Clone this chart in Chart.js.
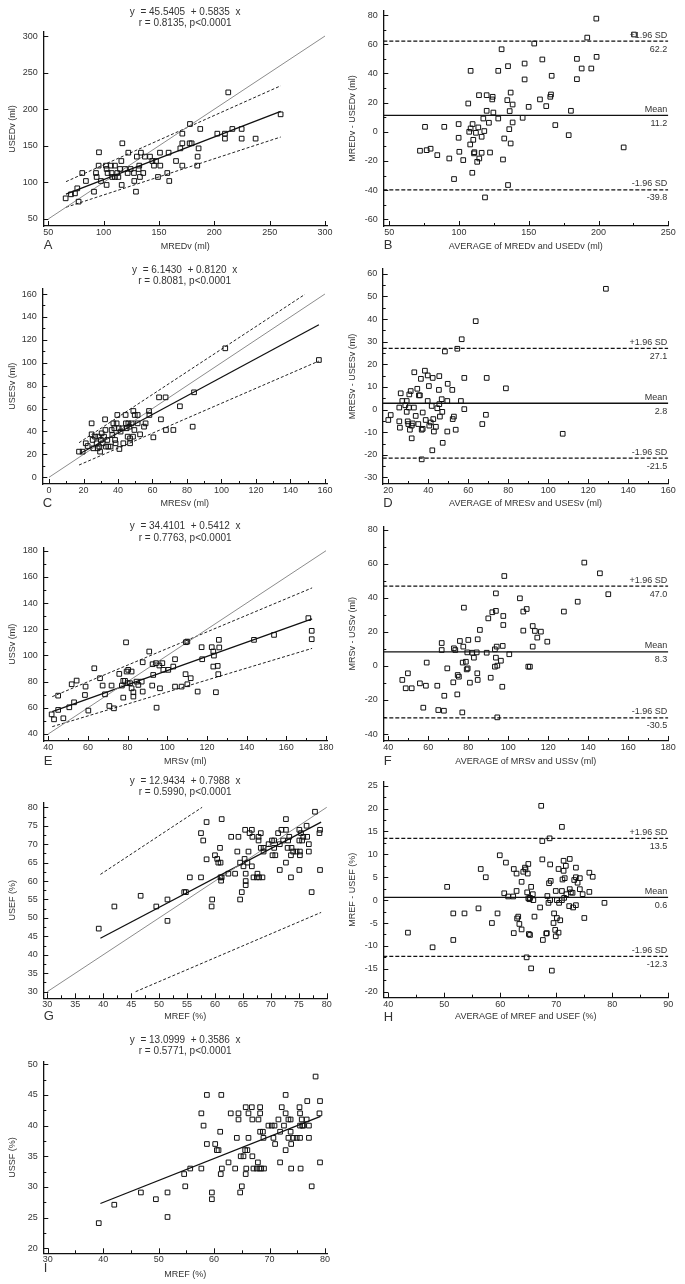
<!DOCTYPE html>
<html>
<head>
<meta charset="utf-8">
<title>MR vs US agreement</title>
<script src="https://cdn.jsdelivr.net/npm/chart.js@4.4.1/dist/chart.umd.min.js"></script>
<style>
  body { margin: 0; background: #fff; }
  #fig { position: relative; width: 685px; height: 1284px; overflow: hidden; background: #fff; }
  .panel { position: absolute; }
</style>
</head>
<body>
<div id="fig"></div>
<script>
// ---- values ----

// A: end-diastolic volume, MR vs US
const edvMR = [65.7,70.5,74.1,76.2,77.4,80.7,84,91.3,93.1,93.7,95.8,95.5,97.6,102.7,102.1,102.7,103.6,106.6,107.2,107.8,110.2,110.2,112.3,113.3,114.8,116,116.9,116.3,119.3,121.7,122.3,124.4,127.4,127.7,129.2,130,131.6,132.2,132.8,133.7,135.8,137.3,141.9,144,145.5,147.3,149.1,150.9,151.2,157.5,158.7,159.3,165.4,169.3,171.1,171.1,171.1,178,177.7,179.5,184.6,184.9,185.8,187.3,202.7,209.6,209.6,212.6,216.3,224.7,224.7,237.3,259.9];
const edvUS = [78.2,83.7,85,91.9,73.7,112.8,101.9,87.3,112.8,107.4,141.1,122.9,101.9,96.5,122.9,118.3,112.8,122.9,112.8,107.4,122.9,107.4,112.8,107.4,118.3,129.2,153.4,96.5,118.3,112.8,140.6,118.3,112.8,101.9,87.3,135.2,118.3,122.9,107.4,140.6,112.8,135.2,135.2,129.2,122.9,129.2,107.4,140.6,122.9,112.8,140.6,101.9,129.2,146.5,153.4,166.6,122.9,179.8,153.4,153.4,122.9,135.2,146.5,173,166.6,166.6,159.8,223,173,173,159.8,159.8,193];
const edvFitX = [66, 260], edvFitY = [84, 197];
const edvHiX = [66, 260], edvHiY = [101, 232];
const edvLoX = [66, 260], edvLoY = [66, 162];
const edvIdX = [50, 300], edvIdY = [50, 300];
const edvTicks = [50, 100, 150, 200, 250, 300];

// B: Bland-Altman EDV
const edvAvg = [72,75.6,76.8,79.6,84.4,89.4,93,96.4,99.7,99.7,100.2,103,106.6,107.3,108,108.3,108.3,109.5,109.7,110.2,110.7,111,112.1,113,113.8,114.3,114.5,116.2,116.2,117.4,118.1,118.6,119.8,119.8,121.4,122.2,123.8,124.1,124.6,128.1,128.1,130.5,131.5,132.4,134.6,135.1,135.1,136,136.3,137,137,138.4,138.4,145.6,147,147,149.9,153.9,158,159.7,162.5,165.4,165.9,166.4,169,178.6,180.2,184.5,184.5,187.9,191.9,194.8,198.4,198.6,218,225.4];
const edvDiff = [-13,3.4,-12.6,-11.6,-16,3.4,-18.3,-32.4,5.3,-4.1,-13.7,-19.4,19.4,0,-8.7,41.8,2.3,-28.1,5.3,-5.5,-14.8,-14,-0.7,-20.6,3,25.1,-18.3,-3.4,-14.4,9.1,0.5,-45,14.4,25.1,6.2,-14.2,22.2,24,13.2,41.8,9.1,56.6,-19,-4.6,21.7,45,-36.5,1.8,14.2,26.9,-8,18.7,6.4,9.6,46.8,35.9,17.1,60.5,22.2,49.6,17.6,24,25.6,38.4,4.6,-2.3,14.4,50,36.1,43.4,64.6,43.4,77.6,51.4,-10.7,66.7];
const edvBA = [11.2, 62.2, -39.8];
const edvAvgTicks = [50, 100, 150, 200, 250];
const edvDiffTicks = [-60, -40, -20, 0, 20, 40, 60, 80];

// C: end-systolic volume
const esvMR = [17.4,19.5,21.3,22.4,24.7,24.7,25.3,25.7,26.7,27.6,28.2,28.6,29.2,29.6,30.1,30.5,31.1,31.9,32.5,32.7,33,33.8,34.4,35.7,36.3,36.7,37.3,37.9,38.3,38.6,39.2,39.6,40.4,40.8,41.5,42.5,43.1,44.4,44.6,45,45.6,46,46.6,47,47,47.9,48.7,48.9,49.5,49.7,51.4,51.4,52.8,55.1,56,58,58.2,60.5,63.8,64.9,67.6,67.8,72.1,75.9,83.3,84.1,102.2,156.5];
const esvUS = [22.4,22.4,29.7,27.3,47.1,37.5,32.6,25.3,35.5,29.7,25.3,35.5,26.8,22.4,32.6,38.4,29.7,35.5,50.6,41.3,26.8,32.6,26.8,26.8,41.3,36.9,47.1,42.8,32.6,29.7,47.1,54.4,42.8,24.7,39.9,42.8,29.7,54.4,47.1,42.8,35.5,47.1,44.2,29.7,34,47.1,35.5,57.9,41.3,54.4,54.4,47.1,37.5,44.2,47.1,57.9,54.4,34.9,69.8,50.6,69.8,41.3,41.3,62,44.2,74.2,112.6,102.4];
const esvFitX = [18, 156.5], esvFitY = [20.8, 133.2];
const esvHiX = [17.4, 148.4], esvHiY = [30.2, 159.7];
const esvLoX = [17.4, 156.5], esvLoY = [10.7, 101.5];
const esvIdX = [0, 160], esvIdY = [0, 160];
const esvTicks = [0, 20, 40, 60, 80, 100, 120, 140, 160];

// D: Bland-Altman ESV
const esvAvg = [20,21.2,25.5,25.5,25.8,26.2,27,28.5,29.2,29.2,29.7,30,30.3,30.5,30.8,31.2,31.7,31.7,32.2,32.8,33,33.7,34.5,35,35.3,35.8,36.3,36.7,36.7,37.2,37.2,38.3,38.7,39.7,39.7,40.3,40.5,41.2,41.7,42,42.2,42.5,42.8,43.8,44.5,45.3,45.5,45.5,45.8,46.7,47,47.2,48.3,49.5,49.5,49.7,52,52.2,52.8,53.7,54.5,56.3,56.7,58,58,63.7,67,68.8,69.2,78.8,107.2,128.8];
const esvDiff = [-4.6,-2.4,0.9,-5.2,-8,7.2,3.8,1.9,3.8,-1,-5.2,-6.4,0.9,6.7,-8.9,8.2,-7.1,-12.7,-6.1,0.9,16.5,-2.8,9.2,-6.4,6.3,6.3,13.6,-8.9,-22,-1.3,-8.5,17.2,-4.6,15.1,3.8,10.4,-7.1,-5.7,1.6,-18,14,-4.2,-9.7,-7.6,0.6,8.7,14.8,2.4,-3.1,4.6,-1,-14.7,25.7,-9.7,3.8,11.4,8.7,-4.2,-3.1,-8.9,26.9,3.8,31.1,14,0.2,39.1,-6.4,-2.3,14,9.4,-10.7,53.4];
const esvBA = [2.8, 27.1, -21.5];
const esvAvgTicks = [20, 40, 60, 80, 100, 120, 140, 160];
const esvDiffTicks = [-30, -20, -10, 0, 10, 20, 30, 40, 50, 60];

// E: stroke volume
const svMR = [41.7,42.9,45,45,47.6,50.6,51.8,53,54.3,58.5,58.8,60.2,63.2,66.1,67.4,68.6,70.8,71.9,73.1,75.8,77.1,77.8,77.8,78.7,79.2,79.5,80,80.3,81.2,82,82,82.9,82.9,84.5,85.4,87.1,87.6,87.6,90.9,92.4,92.6,92.9,94.3,94.6,96,96.3,97.5,98,100.5,103,103.9,103.9,107.2,109.2,109.4,110.1,110.1,111.8,115.3,117.3,117.6,122.4,123.2,123.2,123.5,124.5,125.4,125.7,126,126.2,143.7,153.8,171.1,172.8,172.8];
const svUS = [55,51.2,58.4,69.3,52,60.4,78,64.2,80.8,69.8,76.2,57.9,90.2,82.6,77,70.3,61.4,77,59.6,85.9,77,80.6,67.8,80.6,110,87.7,78.8,89,78.8,87.7,74.9,71.9,68.6,80,77.5,80,94.8,72.4,103,77,93.3,85.1,94.1,60.1,92.3,74.9,94.1,89,89,91.5,97.1,76.2,76.2,85.7,110.1,110.6,78,82.6,72.4,106.3,97.1,106.3,103,91.5,99.9,71.9,92,85.7,111.9,106.1,111.9,115.7,128.5,118.8,112.4];
const svFitX = [42, 173], svFitY = [57.1, 128];
const svHiX = [42, 173], svHiY = [68.5, 151.6];
const svLoX = [42, 173], svLoY = [45.6, 105.4];
const svIdX = [40, 180], svIdY = [40, 180];
const svTicks = [40, 60, 80, 100, 120, 140, 160, 180];

// F: Bland-Altman SV
const svAvg = [47,48.7,49.8,51.7,55.8,57.5,58.8,59.2,64.5,65,66.7,66.7,67.8,68,69.5,72.5,72.8,73.5,74.5,74.7,75.3,75.8,77,77.2,77.5,77.8,78.8,79.2,79.7,79.5,80,80.8,82,82.8,84.2,84.5,84.7,84.7,85.8,89.2,90,91.2,92,93.3,93.3,93.8,93.8,93.8,94.2,94.5,94.5,96.3,97,97.2,97.5,97.5,98,100.5,105.8,107.5,107.5,109.2,110,110.8,112.2,112.2,113.3,114.5,116.3,119.5,127.8,134.7,138,145.8,150];
const svDiff = [-8.2,-13.1,-4.3,-13.1,-10.2,-24.5,-11.6,2,-11.6,-25.9,13.5,9.4,-26.3,-17.5,-1.4,-9.6,10.4,9.4,-16.7,-5.3,-6.3,14.7,-27.3,2,11.4,34.3,2.5,-2,-1.4,8,15.3,-9.8,7.8,4.9,8,-4.3,15.7,-8.2,21.2,7.8,28,-6.9,31.6,9.8,-0.4,42.7,32.4,4.9,11.4,0.2,-30.2,3.1,-12.2,11.8,29.4,24.1,52.9,6.9,39.8,32,20.8,33.5,-0.4,-0.4,11.4,23.5,20.6,16.7,20.2,14.3,32,37.8,60.8,54.5,42.2];
const svBA = [8.3, 47.0, -30.5];
const svAvgTicks = [40, 60, 80, 100, 120, 140, 160, 180];
const svDiffTicks = [-40, -20, 0, 20, 40, 60, 80];

// G: ejection fraction
const efMR = [39.2,42,46.7,49.5,51.5,51.5,54.5,54.8,55.5,57.5,57.5,57.9,58.5,58.5,59.4,59.5,60,60.4,60.6,60.9,61,61,61.1,61.2,61.2,62.4,62.9,63.6,64,64.2,64.5,64.5,64.8,65.1,65.3,65.4,65.5,65.5,65.5,65.8,66,66.2,66.6,66.6,66.7,66.9,67.5,67.6,67.8,67.8,67.9,68.2,68.2,68.5,68.7,68.7,69.6,70.2,70.3,70.6,70.6,70.8,71.3,71.6,71.6,71.9,72.2,72.7,72.7,72.7,73,73.1,73.3,73.6,73.6,73.7,74,74.6,75.1,75.1,75.1,75.2,75.2,75.4,75.6,75.8,76.4,76.5,76.8,76.8,77.3,77.9,78.7,78.8,78.8];
const efUS = [47.1,53.1,56,53.1,49.2,55,57,57,61,73,61,71,76,65.9,53.1,55,67,66,65,69,65,61,60.1,76.8,61,62,72,62,68,72,55,65,57,64,66,73.9,62,60,58.9,65,68,73,73.9,64,72,61,61,62,72,71,61,73,69,61,68,69,70,71,67,71,69,67,73,63,70,73.9,71,73.9,65,76.8,69,71,72,67,61,69,68,68,73.9,71,63,68,67,73,71,72,75,72,68,70,57,78.8,73,73.9,63];
const efFitX = [39.5, 79], efFitY = [44.5, 76];
const efHiX = [39.5, 57.7], efHiY = [61.8, 80];
const efLoX = [45.8, 79], efLoY = [30, 51.5];
const efIdX = [30, 80], efIdY = [30, 80];
const efTicks = [30, 35, 40, 45, 50, 55, 60, 65, 70, 75, 80];

// H: Bland-Altman EF
const efAvg = [43.5,47.9,50.5,51.6,51.6,53.6,56.1,56.5,57.4,58.5,59.5,59.9,60.7,61,61.4,62.3,62.4,62.4,62.9,62.9,63,63.2,63.4,63.8,63.8,64.1,64.4,64.5,64.7,64.8,64.9,65,65,65.2,65.1,65.3,65.3,65.5,65.5,65.8,65.9,66.1,67.1,67.3,67.5,67.5,67.6,68.2,68.3,68.4,68.6,68.7,68.8,68.9,68.9,69,69.2,69.5,69.6,69.8,69.9,69.9,70.1,70.1,70.4,70.4,70.5,70.7,71,71,71,71.1,71.3,71.3,71.4,71.5,71.7,71.8,72.3,72.4,72.4,72.6,72.9,73,73.2,73.5,73.5,73.5,73.8,74.2,74.2,74.7,75,75.9,75.9,76.5,78.6];
const efDiff = [-7.1,-10.3,2.9,-2.9,-8.7,-2.9,-1.8,6.8,5,-5,-2.9,9.8,1.5,8.2,0.8,0.8,6.8,-7.2,5.8,2,-4,-3.6,-5.2,4,-6.4,6.2,7.1,6.7,-12.5,1.7,5.8,7.9,0.4,0.2,-7.4,0.5,-7.6,-14.9,2.9,1.3,0,-3.6,-1.6,20.6,12.9,8.9,-8.7,-7.3,-7.2,0.9,-0.6,3.7,13.5,7.8,0,4.2,-15.4,-5,-2.9,-6.5,-7.9,2,0,-3.9,6.8,-7.1,-0.6,-4.4,16,2,0,4.5,8.6,6.4,0.5,4.8,7.5,1.3,-1.3,9,2.4,1.7,1.6,-1.6,4.4,7.1,-1.1,5,3.8,4.8,2.4,1.3,-3.9,6,1.8,5.1,-0.6];
const efBA = [0.6, 13.5, -12.3];
const efAvgTicks = [40, 50, 60, 70, 80, 90];
const efDiffTicks = [-20, -15, -10, -5, 0, 5, 10, 15, 20, 25];

// I: MR EF vs US shortening fraction
const sfMR = [39.2,42,46.8,49.5,51.6,51.6,54.6,54.8,55.7,57.7,57.7,58.1,58.7,58.7,59.6,59.6,60.2,60.5,60.8,61.1,61.2,61.3,61.4,62.6,63,63.8,64.1,64.4,64.4,64.7,64.8,65,65.3,65.6,65.7,65.8,65.7,66,66.2,66.2,66.8,66.9,66.9,67.1,67.7,67.9,68,68.2,68.3,68.3,68.3,68.5,68.8,68.9,69,69.8,70.4,70.7,70.9,71,71.6,71.9,71.9,72.2,72.6,72.9,72.9,72.9,73.4,73.4,73.8,73.8,73.9,73.9,74.3,74.9,75.4,75.5,75.5,75.5,75.6,75.8,75.9,76.1,76.7,76.8,77.1,77.1,77.6,78.3,79,79.1,79.1];
const sfUS = [24.1,27.1,29.1,28,29.1,25.1,32.1,30.1,33,42,33,40,45,37,29.1,28,37,36,36,39,32.1,45,33,34,42,33,38,42,41,29.1,35,30.1,35,36,43,33,32.1,36,42,38,43,41,35,33,33,34,41,33,43,42,39,33,39,38,33,40,40,38,40,37,41,34,39,43,40,36,45,42,41,38,41,39,37,33,38,38,43,42,40,38,33,41,40,40,41,44,40,38,30.1,48,42,44,34];
const sfFitX = [39.5, 79.2], sfFitY = [27.3, 41.5];
const sfXTicks = [30, 40, 50, 60, 70, 80];
const sfYTicks = [20, 25, 30, 35, 40, 45, 50];

// ---- drawing ----
const FONT = '"Liberation Sans", Arial, sans-serif';
Chart.defaults.font.family = FONT;
Chart.defaults.font.size = 9;
Chart.defaults.color = '#333';

const YW = 40, XH = 20;
const pts = (xs, ys) => xs.map((v, i) => ({x: v, y: ys[i]}));

const lineStyles = {
  fit: {borderColor: '#111', borderWidth: 1.3},
  ci: {borderColor: '#222', borderWidth: 1, borderDash: [3, 2]},
  id: {borderColor: '#8c8c8c', borderWidth: 1},
  mean: {borderColor: '#111', borderWidth: 1.3},
  sd: {borderColor: '#111', borderWidth: 1.3, borderDash: [4, 2]}
};

function axis(d, horiz) {
  return {
    type: 'linear',
    min: d.min,
    max: d.max,
    afterBuildTicks: s => { s.ticks = d.major.map(v => ({value: v})); },
    afterFit: s => { if (horiz) s.height = XH; else s.width = YW; },
    grid: {display: false, drawTicks: false},
    border: {display: true, color: '#111', width: 1.3},
    ticks: {autoSkip: false, maxRotation: 0, minRotation: 0, padding: horiz ? 1.3 : 5.5,
            callback: v => String(v)}
  };
}

function minorValues(d, s) {
  if (!d.minor) return [];
  const out = [];
  for (let v = Math.ceil(s.min / d.minor) * d.minor; v <= s.max + 1e-9; v += d.minor) {
    if (!d.major.some(m => Math.abs(m - v) < 1e-6)) out.push(v);
  }
  return out;
}

function decoPlugin(p) {
  return {
    id: 'deco',
    afterDraw(chart) {
      const {ctx, chartArea: a} = chart;
      const sx = chart.scales.x, sy = chart.scales.y;
      ctx.save();
      // inward tick marks
      ctx.strokeStyle = '#111';
      ctx.lineWidth = 1;
      ctx.beginPath();
      const xt = (v, len) => { const q = Math.round(sx.getPixelForValue(v)) + 0.5; ctx.moveTo(q, a.bottom); ctx.lineTo(q, a.bottom - len); };
      const yt = (v, len) => { const q = Math.round(sy.getPixelForValue(v)) + 0.5; ctx.moveTo(a.left, q); ctx.lineTo(a.left + len, q); };
      p.x.major.forEach(v => xt(v, 5));
      p.y.major.forEach(v => yt(v, 5));
      minorValues(p.x, sx).forEach(v => xt(v, 3));
      minorValues(p.y, sy).forEach(v => yt(v, 3));
      ctx.stroke();

      const mid = (a.left + a.right) / 2;
      ctx.fillStyle = '#333';
      ctx.textBaseline = 'middle';
      ctx.textAlign = 'center';
      if (p.eq) {
        ctx.font = '10px ' + FONT;
        ctx.fillText(p.eq[0], mid, a.top - p.eqDy[0]);
        ctx.fillText(p.eq[1], mid, a.top - p.eqDy[1]);
      }
      ctx.font = '9px ' + FONT;
      ctx.fillText(p.xTitle, mid, a.bottom + p.xTitleDy);
      ctx.save();
      ctx.translate(12.5, (a.top + a.bottom) / 2);
      ctx.rotate(-Math.PI / 2);
      ctx.fillText(p.yTitle, 0, 0);
      ctx.restore();

      if (p.ba) {
        const names = ['Mean', '+1.96 SD', '-1.96 SD'];
        ctx.textAlign = 'right';
        p.ba.forEach((v, i) => {
          const q = sy.getPixelForValue(v);
          ctx.fillText(names[i], a.right - 1, q - 6);
          ctx.fillText(v.toFixed(1), a.right - 1, q + 8);
        });
      }

      ctx.font = '13px ' + FONT;
      ctx.textAlign = 'left';
      ctx.fillText(p.letter, a.left + 0.5, a.bottom + p.letterDy);
      ctx.restore();
    }
  };
}

function makePanel(p) {
  const [cx, cy, cw, ch] = p.box;
  const [L, T, R, B] = p.area;
  const div = document.createElement('div');
  div.className = 'panel';
  Object.assign(div.style, {left: cx + 'px', top: cy + 'px', width: cw + 'px', height: ch + 'px'});
  const cv = document.createElement('canvas');
  div.appendChild(cv);
  document.getElementById('fig').appendChild(div);

  const datasets = [{
    data: p.points,
    pointStyle: 'rect',
    pointRadius: 3.3,
    pointBorderWidth: 1,
    pointBorderColor: '#111',
    pointBackgroundColor: 'rgba(0,0,0,0)'
  }];
  (p.lines || []).forEach(l => {
    datasets.push(Object.assign({data: l.data, showLine: true, pointRadius: 0, fill: false}, lineStyles[l.kind]));
  });
  if (p.ba) {
    p.ba.forEach((v, i) => {
      datasets.push(Object.assign({
        data: [{x: p.x.min, y: v}, {x: p.x.max, y: v}],
        showLine: true, pointRadius: 0, fill: false
      }, lineStyles[i === 0 ? 'mean' : 'sd']));
    });
  }

  new Chart(cv, {
    type: 'scatter',
    data: {datasets},
    options: {
      responsive: true,
      maintainAspectRatio: false,
      animation: false,
      events: [],
      devicePixelRatio: 1,
      layout: {padding: {left: L - cx - YW, top: T - cy, right: cx + cw - R, bottom: cy + ch - B - XH}},
      plugins: {legend: {display: false}, tooltip: {enabled: false}},
      scales: {x: axis(p.x, true), y: axis(p.y, false)}
    },
    plugins: [decoPlugin(p)]
  });
}

const panels = [
  {
    box: [0, 0, 340, 258], area: [43.3, 32, 327, 226],
    x: {min: 45.5, max: 301.8, major: edvTicks}, y: {min: 40.4, max: 305.5, major: edvTicks},
    points: pts(edvMR, edvUS),
    lines: [{kind: 'id', data: pts(edvIdX, edvIdY)}, {kind: 'fit', data: pts(edvFitX, edvFitY)},
            {kind: 'ci', data: pts(edvHiX, edvHiY)}, {kind: 'ci', data: pts(edvLoX, edvLoY)}],
    eq: ['y  = 45.5405  + 0.5835  x', 'r = 0.8135, p<0.0001'], eqDy: [20, 8.5],
    xTitle: 'MREDv (ml)', yTitle: 'USEDv (ml)', letter: 'A', xTitleDy: 20.7, letterDy: 19.7
  },
  {
    box: [340, 0, 345, 258], area: [383.3, 10.7, 668.3, 226],
    x: {min: 45.7, max: 250, major: edvAvgTicks, minor: 25}, y: {min: -64.6, max: 82.9, major: edvDiffTicks, minor: 10},
    points: pts(edvAvg, edvDiff), ba: edvBA,
    xTitle: 'AVERAGE of MREDv and USEDv (ml)', yTitle: 'MREDv - USEDv (ml)', letter: 'B', xTitleDy: 20.7, letterDy: 19.7
  },
  {
    box: [0, 258, 340, 257], area: [42.3, 288.3, 327, 484],
    x: {min: -3.9, max: 161.2, major: esvTicks, minor: 10}, y: {min: -5.85, max: 165, major: esvTicks, minor: 10},
    points: pts(esvMR, esvUS),
    lines: [{kind: 'id', data: pts(esvIdX, esvIdY)}, {kind: 'fit', data: pts(esvFitX, esvFitY)},
            {kind: 'ci', data: pts(esvHiX, esvHiY)}, {kind: 'ci', data: pts(esvLoX, esvLoY)}],
    eq: ['y  = 6.1430  + 0.8120  x', 'r = 0.8081, p<0.0001'], eqDy: [18.3, 7.3],
    xTitle: 'MRESv (ml)', yTitle: 'USESv (ml)', letter: 'C', xTitleDy: 20, letterDy: 19
  },
  {
    box: [340, 258, 345, 257], area: [382.7, 266.7, 668.3, 484],
    x: {min: 17.2, max: 160, major: esvAvgTicks, minor: 10}, y: {min: -32.9, max: 62.2, major: esvDiffTicks, minor: 5},
    points: pts(esvAvg, esvDiff), ba: esvBA,
    xTitle: 'AVERAGE of MRESv and USESv (ml)', yTitle: 'MRESv - USESv (ml)', letter: 'D', xTitleDy: 20, letterDy: 19
  },
  {
    box: [0, 515, 340, 255], area: [43.3, 547.3, 327, 741],
    x: {min: 37.5, max: 180.5, major: svTicks, minor: 10}, y: {min: 34.65, max: 182.6, major: svTicks, minor: 10},
    points: pts(svMR, svUS),
    lines: [{kind: 'id', data: pts(svIdX, svIdY)}, {kind: 'fit', data: pts(svFitX, svFitY)},
            {kind: 'ci', data: pts(svHiX, svHiY)}, {kind: 'ci', data: pts(svLoX, svLoY)}],
    eq: ['y  = 34.4101  + 0.5412  x', 'r = 0.7763, p<0.0001'], eqDy: [20.6, 9],
    xTitle: 'MRSv (ml)', yTitle: 'USSv (ml)', letter: 'E', xTitleDy: 20.7, letterDy: 20.5
  },
  {
    box: [340, 515, 345, 255], area: [383.3, 526.7, 668.3, 741],
    x: {min: 37.5, max: 180, major: svAvgTicks, minor: 10}, y: {min: -44.1, max: 81.9, major: svDiffTicks, minor: 10},
    points: pts(svAvg, svDiff), ba: svBA,
    xTitle: 'AVERAGE of MRSv and USSv (ml)', yTitle: 'MRSv - USSv (ml)', letter: 'F', xTitleDy: 20.7, letterDy: 20.5
  },
  {
    box: [0, 770, 340, 254], area: [43.3, 802.3, 327, 998.3],
    x: {min: 29.28, max: 80.05, major: efTicks, minor: 2.5}, y: {min: 28.2, max: 81.36, major: efTicks, minor: 2.5},
    points: pts(efMR, efUS),
    lines: [{kind: 'id', data: pts(efIdX, efIdY)}, {kind: 'fit', data: pts(efFitX, efFitY)},
            {kind: 'ci', data: pts(efHiX, efHiY)}, {kind: 'ci', data: pts(efLoX, efLoY)}],
    eq: ['y  = 12.9434  + 0.7988  x', 'r = 0.5990, p<0.0001'], eqDy: [20.6, 9.6],
    xTitle: 'MREF (%)', yTitle: 'USEF (%)', letter: 'G', xTitleDy: 18.4, letterDy: 18.6
  },
  {
    box: [340, 770, 345, 254], area: [383.3, 781.7, 668.3, 997.7],
    x: {min: 39.1, max: 90, major: efAvgTicks, minor: 5}, y: {min: -21.31, max: 25.87, major: efDiffTicks, minor: 2.5},
    points: pts(efAvg, efDiff), ba: efBA,
    xTitle: 'AVERAGE of MREF and USEF (%)', yTitle: 'MREF - USEF (%)', letter: 'H', xTitleDy: 19, letterDy: 19.5
  },
  {
    box: [0, 1024, 340, 260], area: [43.3, 1061.7, 327, 1253.3],
    x: {min: 29.2, max: 80.36, major: sfXTicks, minor: 5}, y: {min: 19.18, max: 50.42, major: sfYTicks, minor: 2.5},
    points: pts(sfMR, sfUS),
    lines: [{kind: 'fit', data: pts(sfFitX, sfFitY)}],
    eq: ['y  = 13.0999  + 0.3586  x', 'r = 0.5771, p<0.0001'], eqDy: [21.7, 10.7],
    xTitle: 'MREF (%)', yTitle: 'USSF (%)', letter: 'I', xTitleDy: 21.7, letterDy: 15
  }
];

panels.forEach(makePanel);
</script>
</body>
</html>
